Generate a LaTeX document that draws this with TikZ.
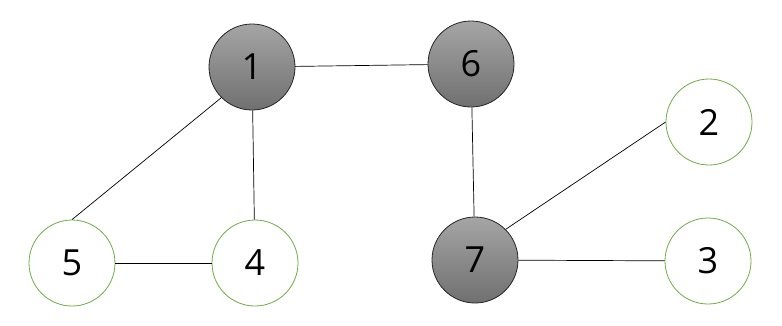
\documentclass[tikz,border=0pt]{standalone}
\usepackage{fontspec}
\setmainfont{Open Sans}
\definecolor{grn}{HTML}{70AD47}
\definecolor{gtop}{RGB}{165,165,165}
\definecolor{gbot}{RGB}{112,112,112}
\begin{document}
\begin{tikzpicture}[x=1pt,y=-1pt,
  vtx/.style={circle,minimum size=86pt,inner sep=0pt,font=\fontsize{36}{36}\selectfont,line width=0.8pt},
  dark/.style={vtx,draw=black!85,top color=gtop,bottom color=gbot},
  light/.style={vtx,draw=grn,fill=white},
  edge/.style={line width=0.7pt,black}]
\useasboundingbox (0,0) rectangle (782,325);
\node[dark] (n1) at (252,67) {1};
\node[dark] (n6) at (471,64) {6};
\node[dark] (n7) at (475,260) {7};
\node[light] (n5) at (72,263) {5};
\node[light] (n4) at (255,263) {4};
\node[light] (n2) at (709,122) {2};
\node[light] (n3) at (708,261) {3};
\draw[edge] (n1) -- (n6);
\draw[edge] (n1.225) -- (n5.north);
\draw[edge] (n1) -- (n4);
\draw[edge] (n5) -- (n4);
\draw[edge] (n6) -- (n7);
\draw[edge] (n7.45) -- (n2.west);
\draw[edge] (n7) -- (n3);
\end{tikzpicture}
\end{document}
